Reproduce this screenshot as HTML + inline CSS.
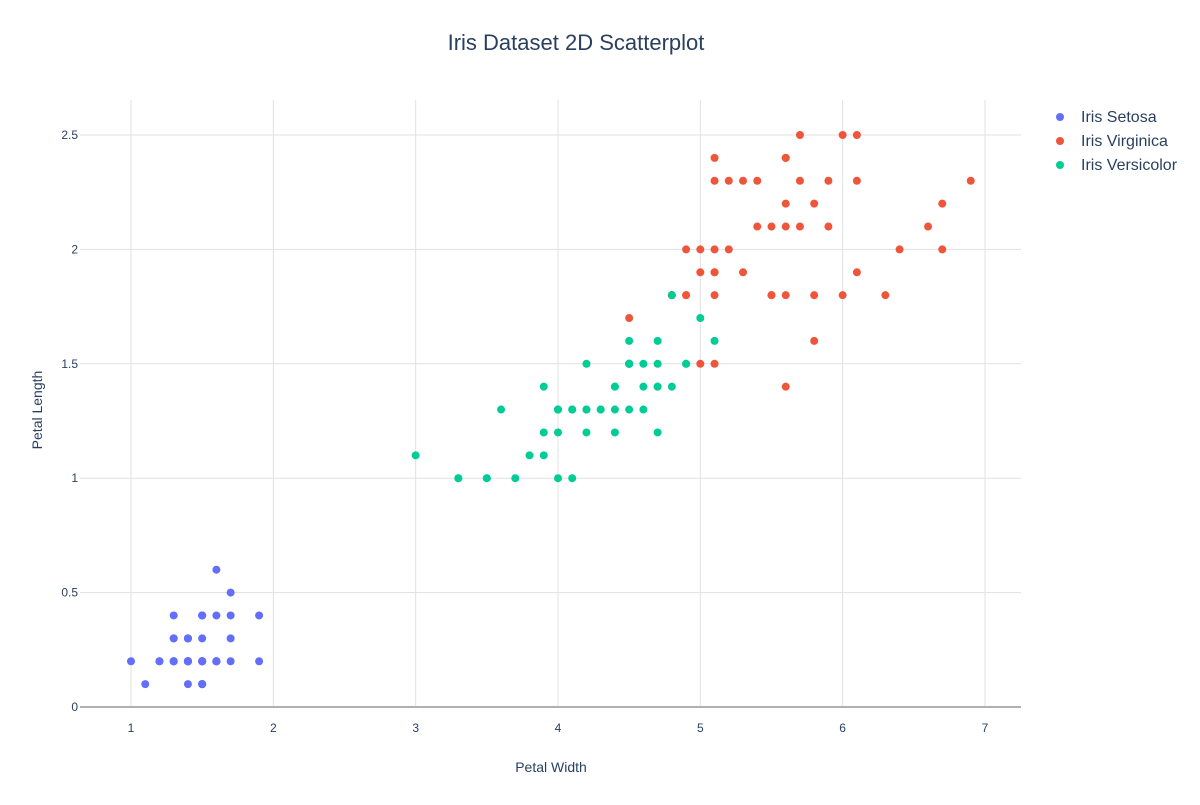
<!DOCTYPE html>
<html><head><meta charset="utf-8"><style>
body{margin:0;background:#fff;}
svg text{font-family:"Liberation Sans",sans-serif;fill:#2a3f5f;}
</style></head><body>
<svg id="s" width="1200" height="800" xmlns="http://www.w3.org/2000/svg">
<rect width="1200" height="800" fill="#fff"/>
<g id="grid" stroke="#e1e1e1" stroke-width="1"></g>
<g id="ticks" font-size="12"></g>
<g id="pts"></g>
<text x="576" y="50" font-size="22" text-anchor="middle">Iris Dataset 2D Scatterplot</text>
<text x="551" y="772" font-size="14" text-anchor="middle">Petal Width</text>
<text x="0" y="0" font-size="14" text-anchor="middle" transform="translate(42,410) rotate(-90)">Petal Length</text>
<circle cx="1060" cy="117" r="4" fill="#636efa"/>
<circle cx="1060" cy="141" r="4" fill="#EF553B"/>
<circle cx="1060" cy="165" r="4" fill="#00cc96"/>
<text x="1081" y="122" font-size="16">Iris Setosa</text>
<text x="1081" y="146" font-size="16">Iris Virginica</text>
<text x="1081" y="170" font-size="16">Iris Versicolor</text>
</svg>
<script>
var NS="http://www.w3.org/2000/svg";
function X(v){return 131+(v-1)*142.33;}
function Y(v){return 707-v*228.8;}
function el(p,t,a,txt){var e=document.createElementNS(NS,t);for(var k in a)e.setAttribute(k,a[k]);if(txt!=null)e.textContent=txt;document.getElementById(p).appendChild(e);}
for(var i=1;i<=7;i++){el("grid","line",{x1:X(i),x2:X(i),y1:100,y2:707});el("ticks","text",{x:X(i),y:732,"text-anchor":"middle"},String(i));}
for(var j=0;j<=5;j++){var v=j*0.5;if(j>0)el("grid","line",{x1:80,x2:1021,y1:Y(v),y2:Y(v)});el("ticks","text",{x:78,y:Y(v)+4,"text-anchor":"end"},String(v));}
el("grid","line",{x1:80,x2:1021,y1:707,y2:707,stroke:"#b0b0b0","stroke-width":2});
var se="1.4 .2,1.4 .2,1.3 .2,1.5 .2,1.4 .2,1.7 .4,1.4 .3,1.5 .2,1.4 .2,1.5 .1,1.5 .2,1.6 .2,1.4 .1,1.1 .1,1.2 .2,1.5 .4,1.3 .4,1.4 .3,1.7 .3,1.5 .3,1.7 .2,1.5 .4,1.0 .2,1.7 .5,1.9 .2,1.6 .2,1.6 .4,1.5 .2,1.4 .2,1.6 .2,1.6 .2,1.5 .4,1.5 .1,1.4 .2,1.5 .1,1.2 .2,1.3 .2,1.5 .1,1.3 .2,1.5 .2,1.3 .3,1.3 .3,1.3 .2,1.6 .6,1.9 .4,1.4 .3,1.6 .2,1.4 .2,1.5 .2,1.4 .2";
var vi="6.0 2.5,5.1 1.9,5.9 2.1,5.6 1.8,5.8 2.2,6.6 2.1,4.5 1.7,6.3 1.8,5.8 1.8,6.1 2.5,5.1 2.0,5.3 1.9,5.5 2.1,5.0 2.0,5.1 2.4,5.3 2.3,5.5 1.8,6.7 2.2,6.9 2.3,5.0 1.5,5.7 2.3,4.9 2.0,6.7 2.0,4.9 1.8,5.7 2.1,6.0 1.8,4.8 1.8,4.9 1.8,5.6 2.1,5.8 1.6,6.1 1.9,6.4 2.0,5.6 2.2,5.1 1.5,5.6 1.4,6.1 2.3,5.6 2.4,5.5 1.8,4.8 1.8,5.4 2.1,5.6 2.4,5.1 2.3,5.1 1.9,5.9 2.3,5.7 2.5,5.2 2.3,5.0 1.9,5.2 2.0,5.4 2.3,5.1 1.8";
var ve="4.7 1.4,4.5 1.5,4.9 1.5,4.0 1.3,4.6 1.5,4.5 1.3,4.7 1.6,3.3 1.0,4.6 1.3,3.9 1.4,3.5 1.0,4.2 1.5,4.0 1.0,4.7 1.4,3.6 1.3,4.4 1.4,4.5 1.5,4.1 1.0,4.5 1.5,3.9 1.1,4.8 1.8,4.0 1.3,4.9 1.5,4.7 1.2,4.3 1.3,4.4 1.4,4.8 1.4,5.0 1.7,4.5 1.5,3.5 1.0,3.8 1.1,3.7 1.0,3.9 1.2,5.1 1.6,4.5 1.5,4.5 1.6,4.7 1.5,4.4 1.3,4.1 1.3,4.0 1.3,4.4 1.2,4.6 1.4,4.0 1.2,3.3 1.0,4.2 1.3,4.2 1.2,4.2 1.3,4.3 1.3,3.0 1.1,4.1 1.3";
[[se,"#636efa"],[vi,"#EF553B"],[ve,"#00cc96"]].forEach(function(s){s[0].split(",").forEach(function(p){var a=p.split(" ");el("pts","circle",{cx:X(+a[0]),cy:Y(+a[1]),r:4,fill:s[1]});});});
</script>
</body></html>
